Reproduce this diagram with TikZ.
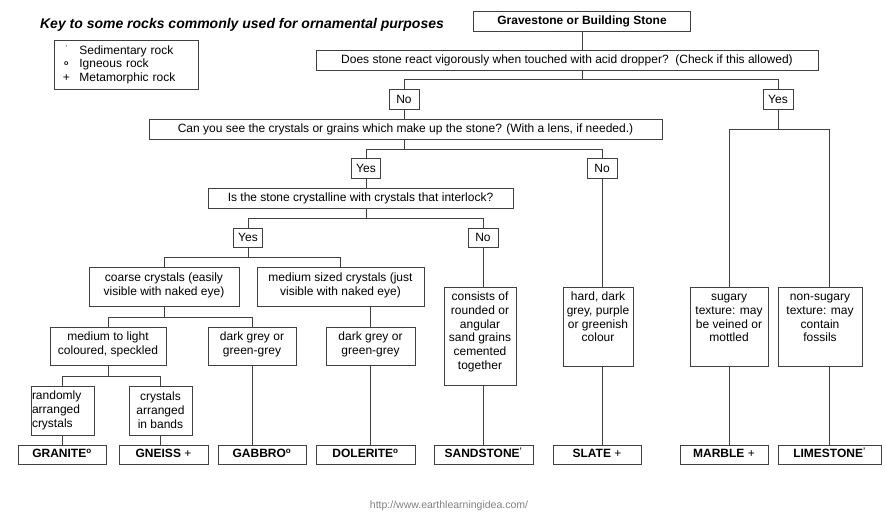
\documentclass[tikz,border=0pt]{standalone}
\usepackage{fontspec}
\setmainfont{Liberation Sans}
\usetikzlibrary{positioning}

\begin{document}
\begin{tikzpicture}[x=1pt, y=-1pt,
  box/.style={draw=black!75, line width=.7pt, rectangle, align=center, inner sep=1pt, text=black, font=\fontsize{12}{13.8}\selectfont},
  ans/.style={box, minimum width=30pt, minimum height=20pt},
  rock/.style={box, minimum height=19pt, text height=9pt, text depth=3pt, font=\fontsize{12}{13.8}\selectfont\bfseries},
  desc/.style={box, inner sep=2pt},
  link/.style={draw=black!75, line width=.7pt}]
  \useasboundingbox (0,0) rectangle (886,522);

  % key
  \node[font=\fontsize{14}{16}\selectfont\bfseries\itshape] (title) at (242,25) {Key to some rocks commonly used for ornamental purposes};
  \node[box, anchor=west, text width=132pt, minimum height=49pt, inner xsep=6pt, align=left, font=\fontsize{12}{13.5}\selectfont] (key) at (54,64.5)
    {\makebox[12pt]{\raisebox{4pt}{\scriptsize '}}\hspace{7pt}Sedimentary rock\\
     \makebox[12pt]{\raisebox{2pt}{\scriptsize\bfseries o}}\hspace{7pt}Igneous rock\\
     \makebox[12pt]{+}\hspace{7pt}Metamorphic rock};

  % questions
  \node[box, minimum width=217pt, minimum height=20pt, font=\fontsize{12}{13.8}\selectfont\bfseries] (grave) at (582,21) {Gravestone or Building Stone};
  \node[box, minimum width=502pt, minimum height=20pt] (acid) at (567,60) {Does stone react vigorously when touched with acid dropper?~~(Check if this allowed)};
  \node[ans] (no1) at (404,99) {No};
  \node[ans] (yes1) at (778,99) {Yes};
  \node[box, minimum width=513pt, minimum height=20pt] (can) at (405.5,129) {Can you see the crystals or grains which make up the stone? (With a lens, if needed.)};
  \node[ans, minimum width=29pt] (yes2) at (366,168) {Yes};
  \node[ans] (no2) at (602,168) {No};
  \node[box, minimum width=305pt, minimum height=20pt] (isq) at (360.5,198) {Is the stone crystalline with crystals that interlock?};
  \node[ans, minimum width=29pt, minimum height=19pt] (yes3) at (248,237.5) {Yes};
  \node[ans, minimum height=19pt] (no3) at (483,237.5) {No};

  % descriptions
  \node[box, minimum width=150pt, minimum height=39pt, text depth=5pt] (coarse) at (164,286.5) {coarse crystals (easily\\visible with naked eye)};
  \node[box, minimum width=167pt, minimum height=39pt, text depth=5pt] (medium) at (340.5,286.5) {medium sized crystals (just\\visible with naked eye)};
  \node[box, minimum width=116pt, minimum height=38pt, text depth=6pt] (light) at (108,346) {medium to light\\coloured, speckled};
  \node[box, minimum width=88pt, minimum height=38pt, text depth=6pt] (dark1) at (252,346) {dark grey or\\green-grey};
  \node[box, minimum width=89pt, minimum height=38pt, text depth=6pt] (dark2) at (370.5,346) {dark grey or\\green-grey};
  \node[box, minimum width=63pt, minimum height=49pt, align=left, text width=61pt] (random) at (62.5,410.5) {randomly\\arranged\\crystals};
  \node[box, minimum width=63pt, minimum height=49pt] (banded) at (160.5,410.5) {crystals\\arranged\\in bands};
  \node[desc] (sdesc) at (480,336) {\parbox[c][94pt][t]{68pt}{\centering\rule{0pt}{11.5pt}consists of\\rounded or\\angular\\sand grains\\cemented\\together}};
  \node[desc] (sldesc) at (598,326.5) {\parbox[c][75pt][t]{66pt}{\centering\rule{0pt}{11.5pt}hard, dark\\grey, purple\\or greenish\\colour}};
  \node[desc] (mdesc) at (729,326.5) {\parbox[c][75pt][t]{74pt}{\centering\rule{0pt}{11.5pt}sugary\\texture: may\\be veined or\\mottled}};
  \node[desc] (ldesc) at (820,326.5) {\parbox[c][75pt][t]{80pt}{\centering\rule{0pt}{11.5pt}non-sugary\\texture: may\\contain\\fossils}};

  % rocks
  \node[rock, minimum width=88pt] (granite) at (62,454.5) {GRANITE\textsuperscript{o}};
  \node[rock, minimum width=89pt] (gneiss) at (163.5,454.5) {GNEISS \textmd{+}};
  \node[rock, minimum width=88pt] (gabbro) at (262,454.5) {GABBRO\textsuperscript{o}};
  \node[rock, minimum width=99pt] (dolerite) at (365.5,454.5) {DOLERITE\textsuperscript{o}};
  \node[rock, minimum width=99pt] (sandstone) at (483.5,454.5) {SANDSTONE\textsuperscript{'}};
  \node[rock, minimum width=88pt] (slate) at (597,454.5) {SLATE \textmd{+}};
  \node[rock, minimum width=88pt] (marble) at (724,454.5) {MARBLE \textmd{+}};
  \node[rock, minimum width=103pt] (limestone) at (829.5,454.5) {LIMESTONE\textsuperscript{'}};

  \node[text=black!50, font=\fontsize{10.5}{12}\selectfont] (url) at (449,506) {http://www.earthlearningidea.com/};

  % connectors
  \draw[link] (grave.south) -- (grave.south |- acid.north);
  \draw[link] (grave.south |- acid.south) -- ++(0,9) coordinate (j1);
  \draw[link] (no1.north) |- (j1) -| (yes1.north);
  \draw[link] (no1.south) -- (no1.south |- can.north);
  \draw[link] (no1.south |- can.south) -- ++(0,10) coordinate (j2);
  \draw[link] (yes2.north) |- (j2) -| (no2.north);
  \draw[link] (yes2.south) -- (yes2.south |- isq.north);
  \draw[link] (yes2.south |- isq.south) -- ++(0,10) coordinate (j3);
  \draw[link] (yes3.north) |- (j3) -| (no3.north);
  \draw[link] (yes3.south) -- ++(0,9.5) coordinate (j4);
  \draw[link] (coarse.north) |- (j4) -| (medium.north);
  \draw[link] (coarse.south) -- ++(0,11) coordinate (j5);
  \draw[link] (light.north) |- (j5) -| (dark1.north);
  \draw[link] (dark2.north) -- (dark2.north |- medium.south);
  \draw[link] (light.south) -- ++(0,11) coordinate (j6);
  \draw[link] (random.north) |- (j6) -| (banded.north);
  \draw[link] (random.south) -- (random.south |- granite.north);
  \draw[link] (banded.south) -- (banded.south |- gneiss.north);
  \draw[link] (dark1.south) -- (dark1.south |- gabbro.north);
  \draw[link] (dark2.south) -- (dark2.south |- dolerite.north);
  \draw[link] (no3.south) -- (no3.south |- sdesc.north);
  \draw[link] (sdesc.south -| sandstone) -- (sandstone.north);
  \draw[link] (no2.south) -- (no2.south |- sldesc.north);
  \draw[link] (sldesc.south -| no2) -- (no2 |- slate.north);
  \draw[link] (yes1.south) -- ++(0,20) coordinate (j7);
  \draw[link] (mdesc.north) |- (j7) -| (limestone |- ldesc.north);
  \draw[link] (mdesc.south) -- (mdesc.south |- marble.north);
  \draw[link] (ldesc.south -| limestone) -- (limestone.north);
\end{tikzpicture}
\end{document}
